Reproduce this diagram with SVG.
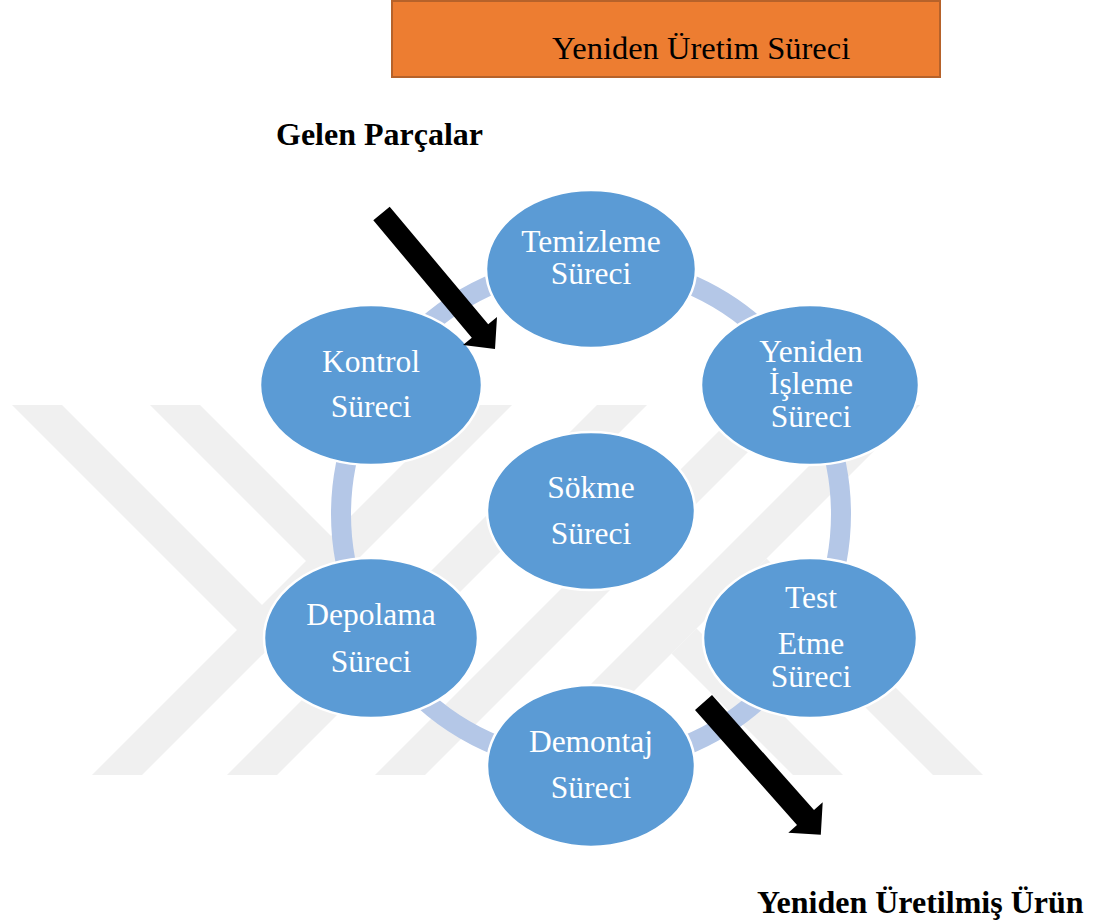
<svg xmlns="http://www.w3.org/2000/svg" width="1096" height="923" viewBox="0 0 1096 923">
<style>
.wm{fill:#f0f0f0}
.node{fill:#5B9BD5;stroke:#ffffff;stroke-width:2.5}
.nt{font-family:"Liberation Serif","Times New Roman",serif;font-size:31.5px;fill:#ffffff;text-anchor:middle}
.lbl{font-family:"Liberation Serif","Times New Roman",serif;font-size:32px;font-weight:bold;fill:#000000}
.arrow{fill:#000000}
</style>
<rect x="0" y="0" width="1096" height="923" fill="#ffffff"/>
<g id="watermark">
<polygon class="wm" points="462,405 512,405 142,775 92,775"/>
<polygon class="wm" points="12,405 62,405 287,630 262,655"/>
<polygon class="wm" points="597,405 647,405 277,775 227,775"/>
<polygon class="wm" points="150,405 200,405 423.5,628.5 398.5,653.5"/>
<polygon class="wm" points="745,405 795,405 425,775 375,775"/>
<polygon class="wm" points="870,405 920,405 550,775 500,775"/>
<polygon class="wm" points="671.5,653.5 696.5,628.5 843,775 793,775"/>
<polygon class="wm" points="741.5,583.5 766.5,558.5 983,775 933,775"/>
</g>
<g id="title">
<rect x="392" y="1" width="548" height="76" fill="#ED7D31" stroke="#B6622A" stroke-width="2"/>
<text x="552" y="59" font-family="&quot;Liberation Serif&quot;,&quot;Times New Roman&quot;,serif" font-size="32.5" fill="#000000">Yeniden Üretim Süreci</text>
</g>
<g id="connectors">
<circle cx="591" cy="514" r="250" fill="none" stroke="#B4C7E7" stroke-width="20"/>
</g>
<g id="node-temizleme">
<ellipse class="node" cx="591" cy="269" rx="105" ry="79"/>
<text class="nt" x="591" y="252">Temizleme</text>
<text class="nt" x="591" y="284">Süreci</text>
</g>
<g id="node-yeniden-isleme">
<ellipse class="node" cx="810" cy="385" rx="109" ry="80"/>
<text class="nt" x="811" y="362">Yeniden</text>
<text class="nt" x="811" y="394">İşleme</text>
<text class="nt" x="811" y="427">Süreci</text>
</g>
<g id="node-test-etme">
<ellipse class="node" cx="810" cy="638" rx="107" ry="80"/>
<text class="nt" x="811" y="608">Test</text>
<text class="nt" x="811" y="654">Etme</text>
<text class="nt" x="811" y="687">Süreci</text>
</g>
<g id="node-demontaj">
<ellipse class="node" cx="591" cy="766" rx="104" ry="81"/>
<text class="nt" x="591" y="752">Demontaj</text>
<text class="nt" x="591" y="798">Süreci</text>
</g>
<g id="node-depolama">
<ellipse class="node" cx="371" cy="638" rx="107" ry="80"/>
<text class="nt" x="371" y="625">Depolama</text>
<text class="nt" x="371" y="672">Süreci</text>
</g>
<g id="node-kontrol">
<ellipse class="node" cx="371" cy="385" rx="111" ry="80"/>
<text class="nt" x="371" y="372">Kontrol</text>
<text class="nt" x="371" y="417">Süreci</text>
</g>
<g id="node-sokme">
<ellipse class="node" cx="591" cy="511" rx="104" ry="79"/>
<text class="nt" x="591" y="498">Sökme</text>
<text class="nt" x="591" y="544">Süreci</text>
</g>
<g id="arrow-in">
<polygon class="arrow" points="373.3,220.3 389.7,206.7 488.2,324.2 497,317 495,349 463,345 471.8,337.8"/>
</g>
<g id="arrow-out">
<polygon class="arrow" points="695,710 712,695 814,810 822.7,802.2 820.8,834.7 788.3,832.8 797,825"/>
</g>
<g id="labels">
<text class="lbl" x="276" y="145">Gelen Parçalar</text>
<text class="lbl" x="757" y="913">Yeniden Üretilmiş Ürün</text>
</g>
</svg>
